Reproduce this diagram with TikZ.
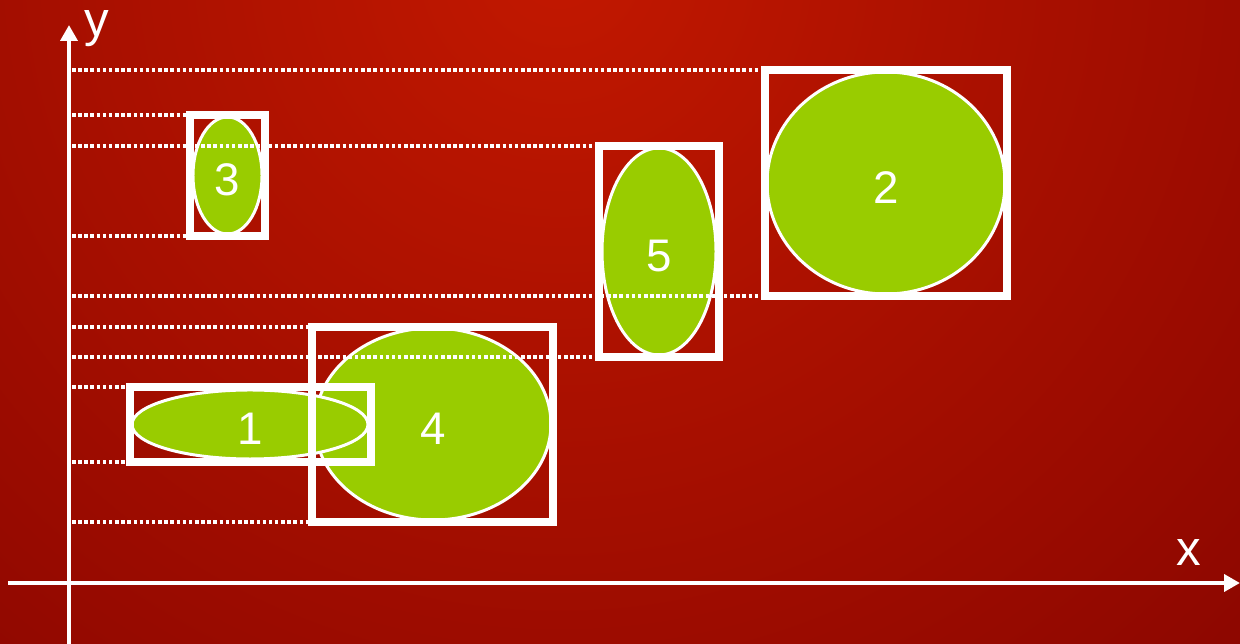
\documentclass[tikz,border=0pt]{standalone}
\usepackage{fontspec}
\setmainfont{Liberation Sans}
\usetikzlibrary{shapes.geometric, arrows.meta, positioning}
\usepackage{xcolor}
\definecolor{leaf}{HTML}{99CC00}
\definecolor{bglight}{RGB}{194,24,0}
\definecolor{bgdark}{RGB}{120,0,0}

\begin{document}
\begin{tikzpicture}[
  blob/.style={ellipse, draw=white, line width=1.7pt, fill=leaf, inner sep=0pt, text=white, text height=23pt, text depth=0pt, font=\fontsize{26}{30}\selectfont},
  bbox/.style={rectangle, draw=white, line width=4.5pt, inner sep=0pt, outer sep=0pt},
  guide/.style={white, line width=2pt, dash pattern=on 2pt off 1.5pt},
  axis/.style={white, line width=2.4pt, -{Triangle[length=9pt,width=9.5pt]}},
  lbl/.style={text=white, inner sep=0pt, anchor=base, font=\fontsize{28}{32}\selectfont}
]

% background
\useasboundingbox (-1.38,-1.22) rectangle (23.42,11.66);
\begin{scope}
  \clip (-1.38,-1.22) rectangle (23.42,11.66);
  \shade[inner color=bglight, outer color=bgdark] (9.8,12.4) circle (27);
\end{scope}

% axes
\coordinate (O) at (0.06,0);
\draw[axis] (0,-1.22) -- (0,11.16) coordinate (ytip);
\draw[axis] (-1.22,0) -- (23.42,0) coordinate (xtip);
\node[lbl] (ylbl) at (0.56,10.92) {y};
\node[lbl] (xlbl) at (22.4,0.34) {x};

% objects
\node[blob, minimum width=4.72cm, minimum height=3.84cm] (e4) at (7.28,3.18) {4};
\node[blob, minimum width=4.72cm, minimum height=1.38cm] (e1) at (3.62,3.17) {1};
\node[blob, minimum width=1.38cm, minimum height=2.34cm] (e3) at (3.17,8.15) {3};
\node[blob, minimum width=2.28cm, minimum height=4.14cm] (e5) at (11.8,6.63) {5};
\node[blob, minimum width=4.76cm, minimum height=4.44cm] (e2) at (16.34,8.0) {2};

\node[bbox, minimum width=4.82cm, minimum height=1.5cm] (b1) at (3.63,3.17) {};
\node[bbox, minimum width=4.82cm, minimum height=3.9cm] (b4) at (7.27,3.17) {};
\node[bbox, minimum width=1.5cm, minimum height=2.42cm] (b3) at (3.17,8.15) {};
\node[bbox, minimum width=2.4cm, minimum height=4.22cm] (b5) at (11.8,6.63) {};
\node[bbox, minimum width=4.84cm, minimum height=4.52cm] (b2) at (16.34,8.0) {};

% projections on the y axis
\foreach \b in {b1,b2,b3,b4,b5} {
  \draw[guide] (O |- \b.north west) -- (\b.north west);
  \draw[guide] (O |- \b.south west) -- (\b.south west);
}

\end{tikzpicture}
\end{document}
